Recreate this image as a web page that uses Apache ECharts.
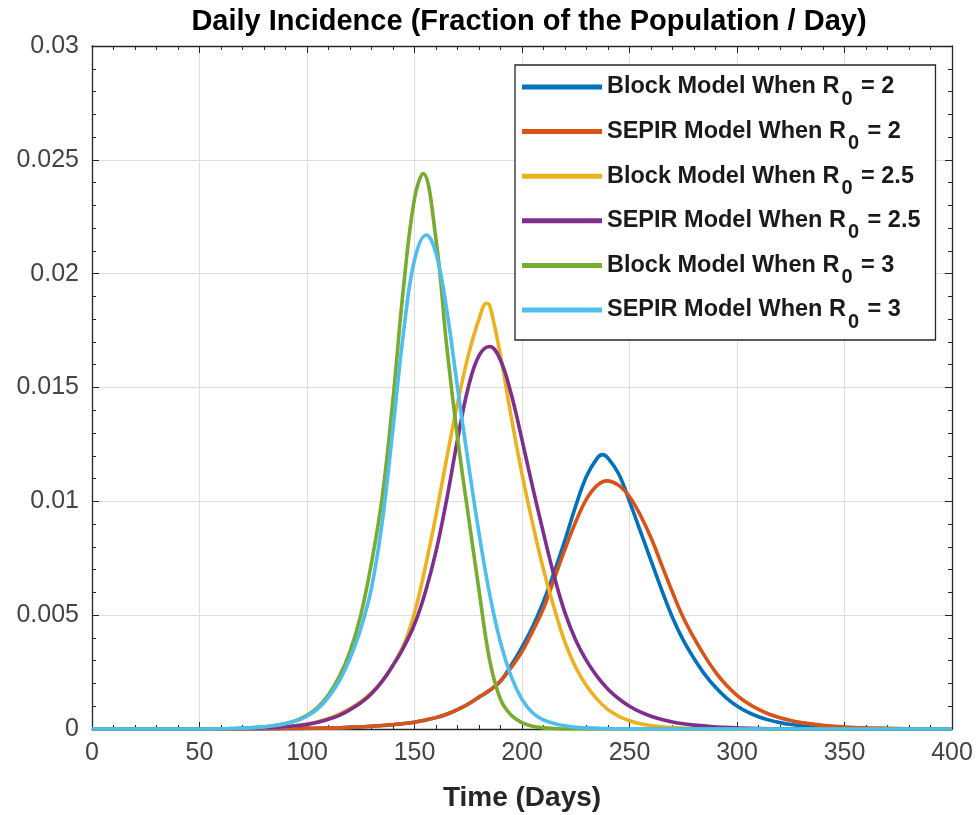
<!DOCTYPE html>
<html>
<head>
<meta charset="utf-8">
<script src="https://cdn.jsdelivr.net/npm/echarts@6/dist/echarts.min.js"></script>
<style>
html,body{margin:0;padding:0;background:#fff;}
#chart{width:977px;height:815px;}
</style>
</head>
<body>
<div id="chart"></div>
<script>
// ---- Data ----
const seriesNames = [
  'Block Model When R0 = 2',
  'SEPIR Model When R0 = 2',
  'Block Model When R0 = 2.5',
  'SEPIR Model When R0 = 2.5',
  'Block Model When R0 = 3',
  'SEPIR Model When R0 = 3'
];
const xTicks = [0, 50, 100, 150, 200, 250, 300, 350, 400];
const yTicks = [0, 0.005, 0.01, 0.015, 0.02, 0.025, 0.03];

const blockR2 = [[0,0],[50,0],[70,0],[80,0.00001],[90,0.00002],[100,0.00003],[110,0.00004],[120,0.00007],[130,0.00012],[140,0.00019],[150,0.0003],[155,0.00039],[160,0.0005],[165,0.00065],[170,0.00085],[175,0.0011],[180,0.0014],[185,0.0017],[190,0.0021],[195,0.0028],[200,0.0036],[205,0.0045],[210,0.0056],[215,0.0069],[220,0.0083],[225,0.0098],[230,0.0111],[235,0.0119],[237.5,0.01205],[240,0.0119],[245,0.0112],[250,0.0100],[255,0.0087],[260,0.0074],[265,0.0061],[270,0.0049],[275,0.0039],[280,0.0031],[285,0.0024],[290,0.00183],[295,0.00137],[300,0.00101],[305,0.00074],[310,0.00054],[315,0.00039],[320,0.00028],[325,0.0002],[330,0.00014],[340,0.00007],[350,0.00003],[360,0.00001],[370,0],[400,0]];

const sepirR2 = [[0,0],[50,0],[70,0],[80,0.00001],[90,0.00002],[100,0.00003],[110,0.00004],[120,0.00007],[130,0.00012],[140,0.0002],[150,0.0003],[155,0.0004],[160,0.0005],[165,0.00065],[170,0.00085],[175,0.0011],[180,0.0014],[185,0.0017],[190,0.0021],[195,0.0027],[200,0.0034],[205,0.0043],[210,0.0053],[215,0.0066],[220,0.0079],[225,0.0091],[230,0.0101],[235,0.0107],[239.5,0.0109],[245,0.0107],[250,0.0102],[255,0.0094],[260,0.0084],[265,0.0072],[270,0.0060],[275,0.0049],[280,0.0040],[285,0.0032],[290,0.0025],[295,0.00193],[300,0.00148],[305,0.00113],[310,0.00086],[315,0.00065],[320,0.00049],[325,0.00037],[330,0.00028],[340,0.00016],[350,0.00009],[360,0.00005],[370,0.00003],[380,0.00001],[390,0],[400,0]];

const blockR25 = [[0,0],[50,0],[60,0],[70,0.00002],[80,0.00005],[90,0.0001],[95,0.00015],[100,0.00022],[105,0.00032],[110,0.00046],[115,0.00065],[120,0.0009],[125,0.0012],[130,0.0016],[135,0.0021],[140,0.0028],[145,0.0037],[150,0.0051],[155,0.0071],[160,0.0094],[165,0.0119],[170,0.0143],[175,0.0164],[180,0.0180],[183.5,0.0187],[185,0.0186],[190,0.0164],[195,0.0137],[200,0.0112],[205,0.0090],[210,0.0070],[215,0.0053],[220,0.0038],[225,0.0027],[230,0.0019],[235,0.0013],[240,0.00085],[245,0.00056],[250,0.00036],[255,0.00023],[260,0.00015],[265,0.0001],[270,0.00006],[280,0.00002],[290,0],[400,0]];

const sepirR25 = [[0,0],[50,0],[60,0],[70,0.00002],[80,0.00005],[90,0.0001],[95,0.00014],[100,0.0002],[105,0.0003],[110,0.00043],[115,0.0006],[120,0.00085],[125,0.00115],[130,0.00155],[135,0.0021],[140,0.0028],[145,0.0036],[150,0.0046],[155,0.0060],[160,0.0078],[165,0.0101],[170,0.0127],[175,0.0150],[180,0.0164],[185,0.0168],[190,0.0162],[195,0.0147],[200,0.0127],[205,0.0106],[210,0.0086],[215,0.0067],[220,0.0051],[225,0.0039],[230,0.0030],[235,0.0023],[240,0.00175],[245,0.00133],[250,0.0010],[255,0.00075],[260,0.00056],[265,0.00042],[270,0.00031],[275,0.00023],[280,0.00017],[290,0.00009],[300,0.00005],[310,0.00002],[320,0.00001],[330,0],[400,0]];

const blockR3 = [[0,0],[50,0],[55,0],[60,0.00001],[65,0.00002],[70,0.00004],[75,0.00006],[80,0.0001],[85,0.00015],[90,0.00024],[95,0.00038],[100,0.0006],[105,0.00095],[110,0.0015],[115,0.0023],[120,0.0034],[125,0.0050],[130,0.0073],[135,0.0102],[140,0.0145],[145,0.0195],[150,0.0233],[154,0.0244],[160,0.0215],[165,0.0168],[170,0.0128],[175,0.0094],[180,0.0061],[185,0.0030],[190,0.0013],[195,0.0006],[200,0.00028],[205,0.00012],[210,0.00005],[215,0.00002],[220,0],[400,0]];

const sepirR3 = [[0,0],[50,0],[55,0],[60,0.00001],[65,0.00002],[70,0.00004],[75,0.00006],[80,0.0001],[85,0.00015],[90,0.00023],[95,0.00036],[100,0.00056],[105,0.00088],[110,0.0014],[115,0.0021],[120,0.0031],[125,0.0044],[130,0.0062],[135,0.0091],[140,0.0132],[145,0.0175],[150,0.0206],[155.5,0.0217],[160,0.0209],[165,0.0184],[170,0.0150],[175,0.0117],[180,0.0086],[185,0.0059],[190,0.0038],[195,0.0023],[200,0.0013],[205,0.0007],[210,0.0004],[215,0.00024],[220,0.00014],[225,0.00008],[230,0.00005],[240,0.00002],[250,0],[400,0]];

const allData = [blockR2, sepirR2, blockR25, sepirR25, blockR3, sepirR3];
const colors = ['#0072BD', '#D95319', '#EDB120', '#7E2F8E', '#77AC30', '#4DBEEE'];

// ---- Chart ----
const FONT = 'Liberation Sans, Arial, Helvetica, sans-serif';
const chart = echarts.init(document.getElementById('chart'), null, {renderer: 'canvas'});

const gridL = 92, gridR = 25, gridT = 46, gridB = 86;
const AX = '#262626';

const commonX = {type: 'value', min: xTicks[0], max: xTicks[xTicks.length - 1], interval: 50};
const commonY = {type: 'value', min: yTicks[0], max: yTicks[yTicks.length - 1], interval: 0.005};
const tickStyle = {show: true, inside: true, length: 7, lineStyle: {color: AX, width: 1}};
const minorStyle = {show: true, splitNumber: 5, length: 4, lineStyle: {color: AX, width: 1}};
const lineStyleAx = {show: true, onZero: false, lineStyle: {color: AX, width: 1.3}};

const option = {
  backgroundColor: '#fff',
  animation: false,
  title: {
    text: 'Daily Incidence (Fraction of the Population / Day)',
    left: 524, top: 2, textAlign: 'center',
    textStyle: {fontFamily: FONT, fontSize: 29, fontWeight: 'bold', color: '#000'}
  },
  grid: {left: gridL, right: gridR, top: gridT, bottom: gridB, show: false,
         containLabel: false, outerBoundsMode: 'none'},
  legend: {
    data: seriesNames,
    orient: 'vertical',
    left: 515, top: 65,
    padding: [0, 15, 8, 7],
    itemGap: 0.6,
    itemWidth: 80, itemHeight: 5,
    icon: 'rect',
    backgroundColor: '#fff',
    borderColor: AX, borderWidth: 1.3,
    borderRadius: 0,
    selectedMode: false,
    formatter: function (name) {
      const i = name.indexOf('R0');
      return '{t|' + name.slice(0, i + 1) + '}{s|0}{t|' + name.slice(i + 2) + '}';
    },
    textStyle: {
      fontFamily: FONT, color: '#000',
      rich: {
        t: {fontFamily: FONT, fontSize: 23.5, fontWeight: 'bold', color: '#1a1a1a', lineHeight: 44},
        s: {fontFamily: FONT, fontSize: 20, fontWeight: 'bold', color: '#1a1a1a', lineHeight: 20, padding: [24, 2, 0, 2]}
      }
    }
  },
  xAxis: [
    Object.assign({}, commonX, {
      position: 'bottom',
      name: 'Time (Days)', nameLocation: 'middle', nameGap: 55,
      nameTextStyle: {fontFamily: FONT, fontSize: 28, fontWeight: 'bold', color: '#262626'},
      axisLine: lineStyleAx, axisTick: tickStyle, minorTick: minorStyle,
      axisLabel: {show: true, margin: 12, fontFamily: FONT, fontSize: 25, color: '#444'},
      splitLine: {show: true, lineStyle: {color: '#dedede', width: 1}}
    }),
    Object.assign({}, commonX, {
      position: 'top',
      axisLine: lineStyleAx, axisTick: tickStyle, minorTick: minorStyle,
      axisLabel: {show: false}, splitLine: {show: false}
    })
  ],
  yAxis: [
    Object.assign({}, commonY, {
      position: 'left',
      axisLine: lineStyleAx, axisTick: tickStyle, minorTick: minorStyle,
      axisLabel: {show: true, margin: 13, fontFamily: FONT, fontSize: 25, color: '#444'},
      splitLine: {show: true, lineStyle: {color: '#dedede', width: 1}}
    }),
    Object.assign({}, commonY, {
      position: 'right',
      axisLine: lineStyleAx, axisTick: tickStyle, minorTick: minorStyle,
      axisLabel: {show: false}, splitLine: {show: false}
    })
  ],
  series: seriesNames.map(function (n, i) {
    return {
      name: n, type: 'line', xAxisIndex: 0, yAxisIndex: 0,
      data: allData[i],
      smooth: 0.4,
      showSymbol: false, symbol: 'none',
      color: colors[i],
      lineStyle: {color: colors[i], width: 3.6},
      itemStyle: {color: colors[i]},
      z: 3 + i
    };
  })
};
chart.setOption(option);
</script>
</body>
</html>
